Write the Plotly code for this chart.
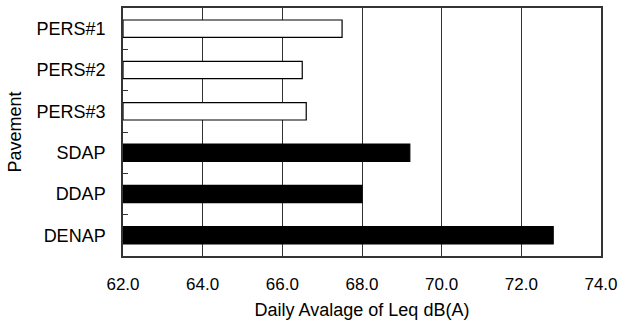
import plotly.graph_objects as go

categories = ["PERS#1", "PERS#2", "PERS#3", "SDAP", "DDAP", "DENAP"]
values = [67.5, 66.5, 66.6, 69.2, 68.0, 72.8]
fill_colors = ["white", "white", "white", "black", "black", "black"]
tick_vals = [62, 64, 66, 68, 70, 72, 74]
tick_text = ["62.0", "64.0", "66.0", "68.0", "70.0", "72.0", "74.0"]

fig = go.Figure()
fig.add_trace(go.Bar(
    y=categories,
    x=[v - 62 for v in values],
    base=62,
    orientation="h",
    marker=dict(color=fill_colors, line=dict(color="black", width=1.2)),
    width=0.42,
))

font = dict(family="Liberation Sans, Arial, sans-serif", size=18, color="black")

fig.update_layout(
    width=624, height=329,
    margin=dict(l=123, r=22, t=6, b=73),
    plot_bgcolor="white", paper_bgcolor="white",
    showlegend=False,
    font=font,
    xaxis=dict(
        range=[62, 74],
        tickvals=tick_vals, ticktext=tick_text,
        showgrid=True, gridcolor="#333333", gridwidth=1,
        showline=True, linecolor="#333333", linewidth=1.5, mirror=True,
        ticks="", zeroline=False,
        title=dict(text="Daily Avalage of Leq dB(A)", font=dict(size=18), standoff=10),
        tickfont=dict(size=17),
        ticklabelstandoff=12,
    ),
    yaxis=dict(
        categoryorder="array", categoryarray=categories,
        autorange="reversed",
        showline=True, linecolor="#333333", linewidth=1.5, mirror=True,
        ticks="inside", ticklen=5, tickcolor="#333333", tickson="boundaries",
        showgrid=False,
        title=dict(text="Pavement", font=dict(size=18), standoff=10),
        tickfont=dict(size=18),
        ticklabelstandoff=12,
    ),
    bargap=0.6,
)

fig.write_html("out.html")
